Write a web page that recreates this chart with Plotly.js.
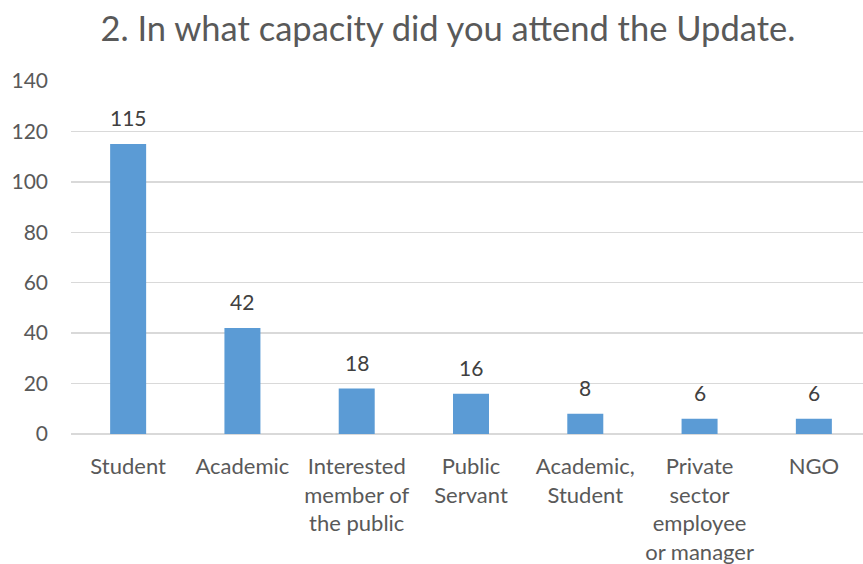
<!DOCTYPE html>
<html><head><meta charset="utf-8">
<script src="https://cdn.plot.ly/plotly-3.0.1.min.js"></script>
<style>html,body{margin:0;padding:0;background:#fff}</style>
</head><body>
<div id="chart" style="width:863px;height:564px"></div>
<script>
const categories = ["Student", "Academic", "Interested<br>member of<br>the public", "Public<br>Servant", "Academic,<br>Student", "Private<br>sector<br>employee<br>or manager", "NGO"];
const counts = [115, 42, 18, 16, 8, 6, 6];
const yTicks = [0, 20, 40, 60, 80, 100, 120, 140];
const FONT = "Lato, 'Open Sans', sans-serif";

const annotations = categories.map((c, i) => ({
  x: c, y: counts[i], xref: 'x', yref: 'y', text: String(counts[i]),
  showarrow: false, yanchor: 'bottom', yshift: 12,
  font: {family: FONT, size: 21, color: '#404040'}
}));

Plotly.newPlot('chart', [{
  type: 'bar', x: categories, y: counts,
  marker: {color: '#5B9BD5'}, hoverinfo: 'skip'
}], {
  width: 863, height: 564,
  margin: {l: 71, r: 0, t: 81, b: 130},
  paper_bgcolor: '#fff', plot_bgcolor: '#fff',
  bargap: 0.685,
  showlegend: false,
  title: {text: '2. In what capacity did you attend the Update.', x: 0.519, xanchor: 'center', y: 0.948, yanchor: 'middle',
    font: {family: FONT, size: 34.5, color: '#595959'}},
  xaxis: {type: 'category', range: [-0.5, 6.43], showgrid: false, zeroline: false,
    showline: false, ticks: '', ticklabelstandoff: 17,
    tickfont: {family: FONT, size: 22, color: '#595959'}},
  yaxis: {range: [0, 140], tickvals: yTicks, showgrid: true, gridcolor: '#D9D9D9', gridwidth: 1.3,
    zeroline: true, zerolinecolor: '#D9D9D9', zerolinewidth: 1.3, showline: false, ticks: '',
    ticklabelstandoff: 22,
    tickfont: {family: FONT, size: 21, color: '#595959'}},
  annotations: annotations
}, {displayModeBar: false, staticPlot: true});
</script>
</body></html>
